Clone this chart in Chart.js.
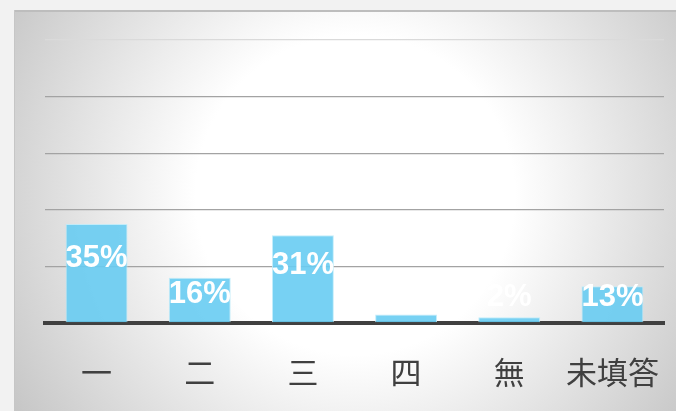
<!DOCTYPE html>
<html>
<head>
<meta charset="utf-8">
<script src="https://cdn.jsdelivr.net/npm/chart.js@4"></script>
<style>
    html, body { margin: 0; padding: 0; background: #f2f2f2; }
    #wrap { width: 676px; height: 411px; }
</style>
</head>
<body>
<div id="wrap"><canvas id="chart"></canvas></div>
<script>
// --- 자료
const categories = ["一", "二", "三", "四", "無", "未填答"];
const percents   = [35, 16, 31, 3, 2, 13];
const yTicks     = [0, 20, 40, 60, 80, 100];

// 회색 패널 + 가운데 밝은 원형 그라데이션
const panelBg = {
    id: "panelBg",
    beforeDraw(chart) {
        const ctx = chart.ctx;
        const w = chart.width, h = chart.height;
        ctx.save();
        ctx.fillStyle = "#f2f2f2";
        ctx.fillRect(0, 0, w, h);
        const g = ctx.createRadialGradient(355, 195, 0, 355, 195, 420);
        g.addColorStop(0, "#ffffff");
        g.addColorStop(0.38, "#ffffff");
        g.addColorStop(1, "#c2c2c2");
        ctx.fillStyle = g;
        ctx.fillRect(14, 10, w - 14, h - 10);
        ctx.fillStyle = "#bdbdbd";
        ctx.fillRect(14, 10, w - 14, 2);
        ctx.fillStyle = "#c6c6c6";
        ctx.fillRect(14, 10, 1, h - 10);
        ctx.restore();
    },
};

// 막대 안쪽 흰 글씨 퍼센트
const valueLabels = {
    id: "valueLabels",
    afterDatasetsDraw(chart) {
        const ctx = chart.ctx;
        const yScale = chart.scales.y;
        const meta = chart.getDatasetMeta(0);
        ctx.save();
        ctx.font = "bold 31px 'Liberation Sans', Arial, sans-serif";
        ctx.fillStyle = "#ffffff";
        ctx.textAlign = "center";
        ctx.textBaseline = "middle";
        meta.data.forEach((bar, i) => {
            const v = percents[i];
            const y = yScale.getPixelForValue(Math.max(v * 0.68 - 0.9, 9.2));
            ctx.fillText(v + "%", bar.x, y);
        });
        ctx.restore();
    },
};

new Chart(document.getElementById("chart"), {
    type: "bar",
    data: {
        labels: categories,
        datasets: [{
            data: percents,
            backgroundColor: "rgba(104, 204, 242, 0.9)",
            borderColor: "rgba(190, 235, 250, 0.9)",
            borderWidth: 1,
            categoryPercentage: 1.0,
            barPercentage: 0.6,
        }],
    },
    options: {
        responsive: true,
        maintainAspectRatio: false,
        animation: false,
        layout: { padding: { left: 45, right: 12, top: 40, bottom: 0 } },
        plugins: {
            legend: { display: false },
            tooltip: { enabled: false },
        },
        scales: {
            x: {
                grid: { display: false, drawTicks: false },
                border: { display: true, color: "#404040", width: 4 },
                ticks: {
                    color: "#404040",
                    padding: 31,
                    maxRotation: 0,
                    font: { family: "'Noto Sans CJK TC', sans-serif", size: 31 },
                },
                afterFit(scale) {
                    scale.height = 88;
                    scale.paddingLeft = 0;
                    scale.paddingRight = 0;
                },
            },
            y: {
                min: 0,
                max: 100,
                afterBuildTicks(scale) { scale.ticks = yTicks.map(v => ({ value: v })); },
                afterFit(scale) { scale.width = 0; },
                ticks: { display: false },
                border: { display: false },
                grid: {
                    drawTicks: false,
                    color: ctx => ctx.tick && ctx.tick.value === 100 ? "#dadada" : "#a3a3a3",
                    lineWidth: 1.3,
                },
            },
        },
    },
    plugins: [panelBg, valueLabels],
});
</script>
</body>
</html>
